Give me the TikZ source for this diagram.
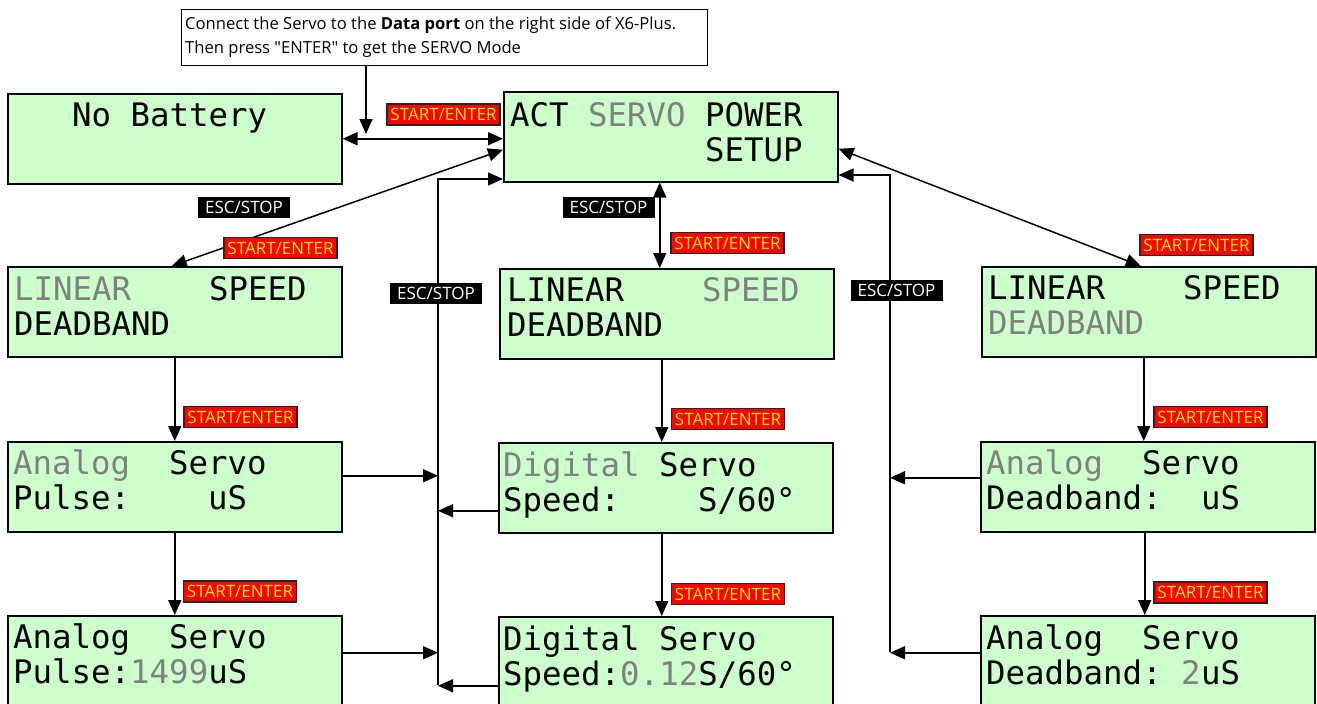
\documentclass[tikz,border=0pt]{standalone}
\usepackage{fontspec}
\setmainfont{Open Sans}
\newfontfamily\lcdfont{DejaVu Sans Mono}
\usetikzlibrary{arrows.meta}
\definecolor{lcdgreen}{HTML}{CCFFCC}
\definecolor{lcdgray}{HTML}{808080}
\begin{document}
\begin{tikzpicture}[x=1pt,y=-1pt,
  lcdbox/.style={draw=black, line width=1.5pt, fill=lcdgreen, minimum width=334pt, minimum height=90pt, anchor=north west, inner sep=0pt},
  lcd/.style={anchor=base west, inner sep=0pt, font=\lcdfont\fontsize{32.4}{38}\selectfont},
  gr/.style={text=lcdgray},
  conn/.style={draw=black, line width=1.5pt, -{Triangle[length=15pt,width=13pt]}},
  dconn/.style={draw=black, line width=1.5pt, {Triangle[length=15pt,width=13pt]}-{Triangle[length=15pt,width=13pt]}},
  selab/.style={draw=black!85, line width=1.3pt, fill=red, text=yellow, font=\fontsize{17}{19}\selectfont, minimum width=113pt, minimum height=21pt, inner sep=0pt},
  esclab/.style={fill=black, text=white, font=\fontsize{17}{19}\selectfont, minimum width=92pt, minimum height=21pt, inner sep=0pt},
  notetext/.style={anchor=base west, inner sep=0pt, font=\fontsize{16.6}{19}\selectfont}
]
\useasboundingbox (0,0) rectangle (1317,704);

% note
\node[draw=black, line width=1pt, anchor=north west, minimum width=526pt, minimum height=56pt, inner sep=0pt] (note) at (181,9) {};
\node[notetext] (note1) at (185,29) {Connect the Servo to the \textbf{Data port} on the right side of X6-Plus.};
\node[notetext] (note2) at (185,53) {Then press \textquotedbl ENTER\textquotedbl{} to get the SERVO Mode};

% boxes
\node[lcdbox] (nobat) at (7,93) {};
\node[lcdbox] (act) at (503,91) {};
\node[lcdbox] (lin1) at (7,266) {};
\node[lcdbox] (lin2) at (499,268) {};
\node[lcdbox] (lin3) at (981,266) {};
\node[lcdbox] (ana1) at (7,441) {};
\node[lcdbox] (dig1) at (498,442) {};
\node[lcdbox] (dead1) at (980,441) {};
\node[lcdbox] (ana2) at (7,615) {};
\node[lcdbox] (dig2) at (498,616) {};
\node[lcdbox] (dead2) at (980,615) {};

% texts
\node[lcd] (tnb) at (72,126) {No Battery};
\node[lcd] (tacta) at (510,126) {ACT};
\node[lcd,gr] (tactb) at (588,126) {SERVO};
\node[lcd] (tactc) at (705,126) {POWER};
\node[lcd] (tactd) at (705,161) {SETUP};

\node[lcd,gr] (tl1a) at (14,300) {LINEAR};
\node[lcd] (tl1b) at (209,300) {SPEED};
\node[lcd] (tl1c) at (14,335) {DEADBAND};

\node[lcd] (tl2a) at (507,301) {LINEAR};
\node[lcd,gr] (tl2b) at (702,301) {SPEED};
\node[lcd] (tl2c) at (507,336) {DEADBAND};

\node[lcd] (tl3a) at (988,299) {LINEAR};
\node[lcd] (tl3b) at (1183,299) {SPEED};
\node[lcd,gr] (tl3c) at (988,334) {DEADBAND};

\node[lcd,gr] (ta1a) at (13,474) {Analog};
\node[lcd] (ta1b) at (169,474) {Servo};
\node[lcd] (ta1c) at (13,509) {Pulse:};
\node[lcd] (ta1d) at (208,509) {uS};

\node[lcd,gr] (td1a) at (503,476) {Digital};
\node[lcd] (td1b) at (659,476) {Servo};
\node[lcd] (td1c) at (503,511) {Speed:};
\node[lcd] (td1d) at (698,511) {S/60°};

\node[lcd,gr] (te1a) at (986,474) {Analog};
\node[lcd] (te1b) at (1142,474) {Servo};
\node[lcd] (te1c) at (986,509) {Deadband:};
\node[lcd] (te1d) at (1201,509) {uS};

\node[lcd] (ta2a) at (13,648) {Analog};
\node[lcd] (ta2b) at (169,648) {Servo};
\node[lcd] (ta2c) at (13,683) {Pulse:\textcolor{lcdgray}{1499}uS};

\node[lcd] (td2a) at (503,650) {Digital};
\node[lcd] (td2b) at (659,650) {Servo};
\node[lcd] (td2c) at (503,685) {Speed:\textcolor{lcdgray}{0.12}S/60°};

\node[lcd] (te2a) at (986,649) {Analog};
\node[lcd] (te2b) at (1142,649) {Servo};
\node[lcd] (te2c) at (986,684) {Deadband:};
\node[lcd,gr] (te2d) at (1181,684) {2};
\node[lcd] (te2e) at (1201,684) {uS};

% connectors
\coordinate (nj) at (366,138);
\draw[conn] (note.south -| nj) -- ([yshift=4pt]nj);
\draw[dconn] (nobat.east) -- (nobat.east -| act.west);
\draw[dconn] ([xshift=-3pt]lin1.north) -- ([yshift=-13pt]act.west);
\draw[dconn] ([xshift=-11pt]act.south) -- ([xshift=-11pt]act.south |- lin2.north);
\draw[dconn] ([yshift=-12pt]act.east) -- ([xshift=-8pt]lin3.north);

\coordinate (blTop) at (438,179);
\coordinate (blBot) at (438,685);
\draw[conn] (blBot) -- (blTop) -- (blTop -| act.west);
\draw[conn] ([yshift=11pt]ana1.east) -- ([yshift=11pt]ana1.east -| blTop);
\draw[conn] ([yshift=-23pt]dig1.west) -- ([yshift=-23pt]dig1.west -| blTop);
\draw[conn] ([yshift=8pt]ana2.east) -- ([yshift=8pt]ana2.east -| blTop);
\draw[conn] ([yshift=-24pt]dig2.west) -- ([yshift=-24pt]dig2.west -| blTop);

\coordinate (brTop) at (890,175);
\coordinate (brBot) at (890,652);
\draw[conn] (brBot) -- (brTop) -- (brTop -| act.east);
\draw[conn] ([yshift=9pt]dead1.west) -- ([yshift=9pt]dead1.west -| brTop);
\draw[conn] ([yshift=8pt]dead2.west) -- ([yshift=8pt]dead2.west -| brTop);

\draw[conn] (lin1.south) -- (ana1.north);
\draw[conn] (ana1.south) -- (ana2.north);
\draw[conn] ([xshift=-5pt]lin2.south) -- ([xshift=-5pt]lin2.south |- dig1.north);
\draw[conn] ([xshift=-4pt]dig1.south) -- ([xshift=-4pt]dig1.south |- dig2.north);
\draw[conn] ([xshift=-5pt]lin3.south) -- ([xshift=-5pt]lin3.south |- dead1.north);
\draw[conn] ([xshift=-3pt]dead1.south) -- ([xshift=-3pt]dead1.south |- dead2.north);

% labels
\node[selab] (se1) at (443.5,114.5) {START/ENTER};
\node[esclab] (esc1) at (244,207.5) {ESC/STOP};
\node[selab] (se2) at (280.5,248) {START/ENTER};
\node[esclab] (esc2) at (608.5,207) {ESC/STOP};
\node[selab] (se3) at (727.5,243) {START/ENTER};
\node[selab] (se4) at (1196.5,245) {START/ENTER};
\node[esclab] (esc3) at (436,293.5) {ESC/STOP};
\node[esclab] (esc4) at (896.5,290) {ESC/STOP};
\node[selab] (se5) at (240.5,417) {START/ENTER};
\node[selab] (se6) at (728,419) {START/ENTER};
\node[selab] (se7) at (1210.5,417) {START/ENTER};
\node[selab] (se8) at (240,591.5) {START/ENTER};
\node[selab] (se9) at (728,594) {START/ENTER};
\node[selab] (se10) at (1210.5,592.5) {START/ENTER};
\end{tikzpicture}
\end{document}
